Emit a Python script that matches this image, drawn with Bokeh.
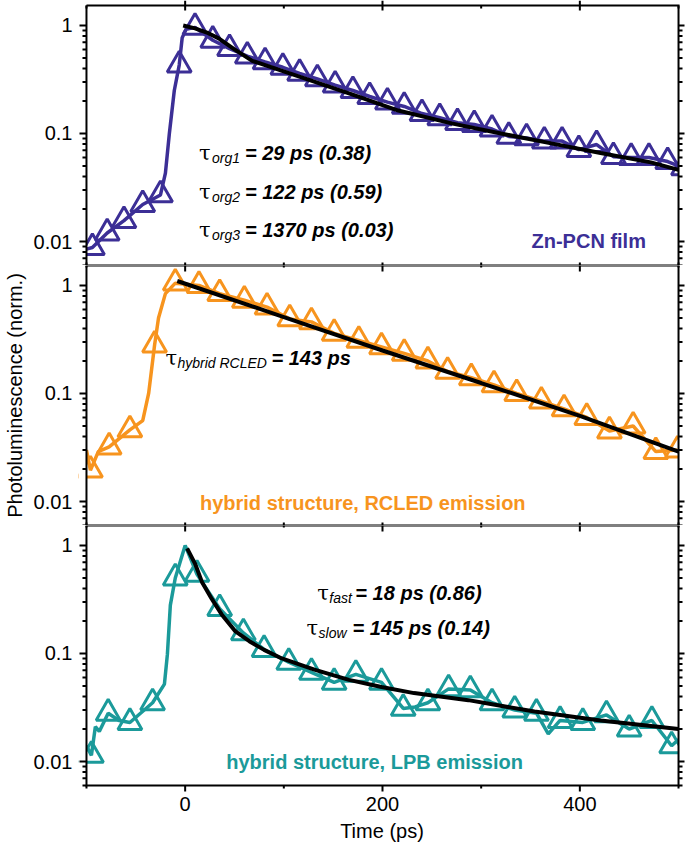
import math
from bokeh.plotting import figure
from bokeh.models import (Range1d, LogAxis, LinearAxis, FixedTicker, Label, BoxAnnotation,
                          CustomJSTickFormatter)
from bokeh.layouts import column
from bokeh.embed import file_html
from bokeh.resources import INLINE

# ---------------- data ----------------
x_major_ticks = [0, 200, 400]
x_minor_ticks = [-100, 100, 300, 500]
y_major_ticks = [0.01, 0.1, 1]
y_minor_ticks = [k * 10.0 ** e for e in (-3, -2, -1, 0) for k in range(2, 10)]

# Zn-PCN film
zn_mk_t = [-94, -79, -62, -43, -25, -6, 10, 28, 45, 63, 81, 99, 116, 134, 152, 170, 187, 205,
           222, 240, 258, 276, 293, 311, 328, 346, 364, 382, 399, 417, 434, 452, 470, 489, 505]
zn_mk_pl = [0.0088, 0.012, 0.0156, 0.022, 0.027, 0.43, 0.96, 0.73, 0.61, 0.52, 0.46, 0.41, 0.36,
            0.32, 0.28, 0.25, 0.22, 0.195, 0.178, 0.153, 0.14, 0.126, 0.121, 0.11, 0.094, 0.091,
            0.085, 0.085, 0.071, 0.079, 0.061, 0.060, 0.060, 0.055, 0.048]
zn_extra_t = [-100, -20, -16, -11, -3, 1]
zn_extra_pl = [0.0085, 0.043, 0.1, 0.25, 0.77, 0.92]
zn_fit_t = [-2, 10, 22, 34, 50, 68, 118, 169, 216, 270, 320, 371, 421, 472, 500]
zn_fit_pl = [1.0, 0.94, 0.86, 0.76, 0.6, 0.47, 0.33, 0.23, 0.163, 0.124, 0.1, 0.081, 0.066,
             0.054, 0.046]

# hybrid structure, RCLED emission
rc_mk_t = [-96, -77, -56, -31, -10, 14, 35, 60, 83, 106, 128, 151, 176, 199, 222, 246, 266,
           290, 313, 336, 361, 384, 407, 430, 454, 477, 499]
rc_mk_pl = [0.0195, 0.032, 0.046, 0.28, 1.05, 1.0, 0.84, 0.73, 0.63, 0.49, 0.46, 0.36, 0.31,
            0.27, 0.235, 0.2, 0.16, 0.14, 0.12, 0.1, 0.085, 0.072, 0.06, 0.045, 0.05, 0.029, 0.03]
rc_extra_t = [-100, -88, -43, -37, -27, -20]
rc_extra_pl = [0.03, 0.029, 0.056, 0.1, 0.5, 0.84]
rc_fit_t = [-8, 100, 200, 300, 400, 500]
rc_fit_pl = [1.1, 0.51, 0.25, 0.125, 0.062, 0.029]

# hybrid structure, LPB emission
lp_mk_t = [-95, -78, -56, -33, -10, 12, 35, 59, 80, 105, 128, 151, 173, 199, 221, 246, 267,
           289, 311, 334, 356, 380, 403, 427, 450, 473, 493]
lp_mk_pl = [0.0114, 0.028, 0.023, 0.035, 0.5, 0.54, 0.26, 0.155, 0.109, 0.083, 0.067, 0.054,
            0.064, 0.054, 0.031, 0.035, 0.047, 0.046, 0.035, 0.030, 0.028, 0.024, 0.023, 0.027,
            0.020, 0.024, 0.014]
lp_extra_t = [-100, -91, -87, -67, -21, -18, -15, 0, 233, 368, 500]
lp_extra_pl = [0.014, 0.021, 0.019, 0.024, 0.052, 0.098, 0.28, 1.0, 0.032, 0.018, 0.016]
lp_fit_t = [2, 10, 17, 27, 37, 51, 65, 80, 98, 131, 166, 199, 232, 287, 354, 421, 500]
lp_fit_pl = [0.94, 0.68, 0.46, 0.32, 0.23, 0.16, 0.13, 0.108, 0.09, 0.071, 0.057, 0.049,
             0.043, 0.037, 0.029, 0.024, 0.020]

PURPLE = "#3c2f96"
ORANGE = "#f7941e"
TEAL = "#1b9a9a"
FONT = "Liberation Sans"

# ---------------- layout (pixels) ----------------
XMIN, XMAX = -100, 500
YMIN, YMAX = 0.006, 1.53
W = 685
BOX_LEFT, BOX_W, H = 84, 594, 260        # data box position / size
M_LEFT, M_RIGHT, M_TOP, M_BOTTOM = 8, 7, 5, 7   # room for outward ticks inside the frame
BOT = 57                                  # space for x labels

PPU = BOX_W / (XMAX - XMIN)
PPD = H / math.log10(YMAX / YMIN)
X0 = XMIN - M_LEFT / PPU
X1 = XMAX + M_RIGHT / PPU


def dx(px):
    return px / PPU


def sy(v, px):
    """y value shifted by px pixels (up if positive) on the log scale."""
    return v * 10 ** (px / PPD)


def merged(t1, y1, t2, y2):
    pts = sorted(zip(list(t1) + list(t2), list(y1) + list(y2)))
    return [a for a, _ in pts], [b for _, b in pts]


def label_axis(cls, majors, standoff):
    """Axis that only draws tick labels (no rule, no tick marks)."""
    ax = cls(ticker=FixedTicker(ticks=majors, minor_ticks=[]),
             formatter=CustomJSTickFormatter(code="return tick.toString()"))
    ax.axis_line_color = None
    ax.major_tick_line_color = None
    ax.minor_tick_line_color = None
    ax.major_tick_out = 0
    ax.major_tick_in = 0
    ax.minor_tick_out = 0
    ax.minor_tick_in = 0
    ax.major_label_standoff = standoff
    ax.major_label_text_font = FONT
    ax.major_label_text_font_size = "20px"
    ax.major_label_text_color = "black"
    ax.axis_label_text_font = FONT
    ax.axis_label_text_font_size = "20px"
    ax.axis_label_text_font_style = "normal"
    ax.axis_label_text_color = "black"
    return ax


def mask(**kw):
    return BoxAnnotation(fill_color="white", fill_alpha=1.0, line_color=None,
                         level="underlay", **kw)


def yticks(p, xpos, direction, maj_len, min_len):
    ymin_in = [v for v in y_minor_ticks if YMIN <= v <= YMAX]
    for vals, ln in ((y_major_ticks, maj_len), (ymin_in, min_len)):
        p.segment(x0=[xpos] * len(vals), y0=vals,
                  x1=[xpos + direction * dx(ln)] * len(vals), y1=vals,
                  line_color="black", line_width=2)


def xticks(p, ypos, up, down, minor_up, minor_down):
    for vals, u, d in ((x_major_ticks, up, down), (x_minor_ticks, minor_up, minor_down)):
        if u == 0 and d == 0:
            continue
        p.segment(x0=vals, y0=[sy(ypos, -d)] * len(vals),
                  x1=vals, y1=[sy(ypos, u)] * len(vals),
                  line_color="black", line_width=2)


def panel(first, last, ylabel=None):
    top = M_TOP if first else 0
    bottom = M_BOTTOM if last else 0
    y0 = YMIN / 10 ** (bottom / PPD)
    y1 = YMAX * 10 ** (top / PPD)
    p = figure(width=W, height=H + top + bottom + (BOT if last else 0),
               x_range=Range1d(X0, X1), y_range=Range1d(y0, y1), y_axis_type="log",
               x_axis_location=None, y_axis_location=None,
               output_backend="svg", toolbar_location=None, min_border=0)
    p.min_border_left = BOX_LEFT - M_LEFT
    p.min_border_right = 0
    p.min_border_top = 0
    p.min_border_bottom = BOT if last else 0
    p.outline_line_color = None
    p.background_fill_color = "white"
    p.border_fill_color = "white"
    for g in p.grid:
        g.visible = False

    # white masks over the tick margins so the data is cut at the box edges
    p.add_layout(mask(right=XMIN))
    p.add_layout(mask(left=XMAX))
    if first:
        p.add_layout(mask(bottom=YMAX))
    if last:
        p.add_layout(mask(top=YMIN))

    # tick labels (side panels)
    ylab = label_axis(LogAxis, y_major_ticks, 6)
    if ylabel:
        ylab.axis_label = ylabel
        ylab.axis_label_standoff = 5
    p.add_layout(ylab, "left")
    if last:
        xlab = label_axis(LinearAxis, x_major_ticks, 4)
        xlab.axis_label = "Time (ps)"
        xlab.axis_label_standoff = 6
        p.add_layout(xlab, "below")
    return p


def frame_and_ticks(p, first, last):
    # box
    p.line([XMIN, XMAX, XMAX, XMIN, XMIN], [YMAX, YMAX, YMIN, YMIN, YMAX],
           line_color="black", line_width=2, line_join="miter")
    # y ticks, left (out) and right (out)
    yticks(p, XMIN, -1, 7, 4)
    yticks(p, XMAX, +1, 6, 4)
    # x ticks, top side
    if first:
        xticks(p, YMAX, 5, 5, 0, 3)
    else:
        xticks(p, YMAX, 0, 6, 0, 2)
    # x ticks, bottom side
    if last:
        xticks(p, YMIN, 0, 6, 0, 3)
    else:
        xticks(p, YMIN, 3, 0, 3, 0)


def draw(p, mk_t, mk_pl, ex_t, ex_pl, fit_t, fit_pl, color):
    lt, ly = merged(mk_t, mk_pl, ex_t, ex_pl)
    p.line(lt, ly, line_color=color, line_width=3.5, level="image")
    p.scatter(mk_t, mk_pl, marker="triangle", size=24, line_color=color, line_width=3,
              fill_color=None, level="image")
    p.line(fit_t, fit_pl, line_color="black", line_width=4, level="image")


def tau(p, x, y, sub, rest, sub_dx, rest_dx):
    p.add_layout(Label(x=x, y=y, text="\u03c4", text_font="DejaVu Serif",
                       text_font_size="21px", text_color="black", text_baseline="alphabetic"))
    p.add_layout(Label(x=x, y=y, x_offset=sub_dx, y_offset=-5, text=sub, text_font=FONT,
                       text_font_size="14px", text_font_style="italic", text_color="black",
                       text_baseline="alphabetic"))
    p.add_layout(Label(x=x, y=y, x_offset=rest_dx, text=rest, text_font=FONT,
                       text_font_size="20px", text_font_style="bold italic",
                       text_color="black", text_baseline="alphabetic"))


def name(p, x, y, text, color, align):
    p.add_layout(Label(x=x, y=y, text=text, text_font=FONT, text_font_size="20px",
                       text_font_style="bold", text_color=color, text_align=align,
                       text_baseline="middle"))


p1 = panel(True, False)
draw(p1, zn_mk_t, zn_mk_pl, zn_extra_t, zn_extra_pl, zn_fit_t, zn_fit_pl, PURPLE)
frame_and_ticks(p1, True, False)
tau(p1, 14, 0.0657, "org1", "= 29 ps (0.38)", 13, 46)
tau(p1, 14, 0.0286, "org2", "= 122 ps (0.59)", 13, 46)
tau(p1, 14, 0.01283, "org3", "= 1370 ps (0.03)", 13, 46)
name(p1, 467, 0.0102, "Zn-PCN film", PURPLE, "right")

p2 = panel(False, False, ylabel="Photoluminescence (norm.)")
draw(p2, rc_mk_t, rc_mk_pl, rc_extra_t, rc_extra_pl, rc_fit_t, rc_fit_pl, ORANGE)
frame_and_ticks(p2, False, False)
tau(p2, -20, 0.215, "hybrid RCLED", "= 143 ps", 12, 106)
name(p2, 180, 0.0096, "hybrid structure, RCLED emission", ORANGE, "center")

p3 = panel(False, True)
draw(p3, lp_mk_t, lp_mk_pl, lp_extra_t, lp_extra_pl, lp_fit_t, lp_fit_pl, TEAL)
frame_and_ticks(p3, False, True)
tau(p3, 134, 0.362, "fast", "= 18 ps (0.86)", 12, 38)
tau(p3, 123, 0.171, "slow", "= 145 ps (0.14)", 12, 46)
name(p3, 192, 0.0100, "hybrid structure, LPB emission", TEAL, "center")

layout = column(p1, p2, p3, spacing=0)
open("out.html", "w").write(file_html(layout, INLINE))
